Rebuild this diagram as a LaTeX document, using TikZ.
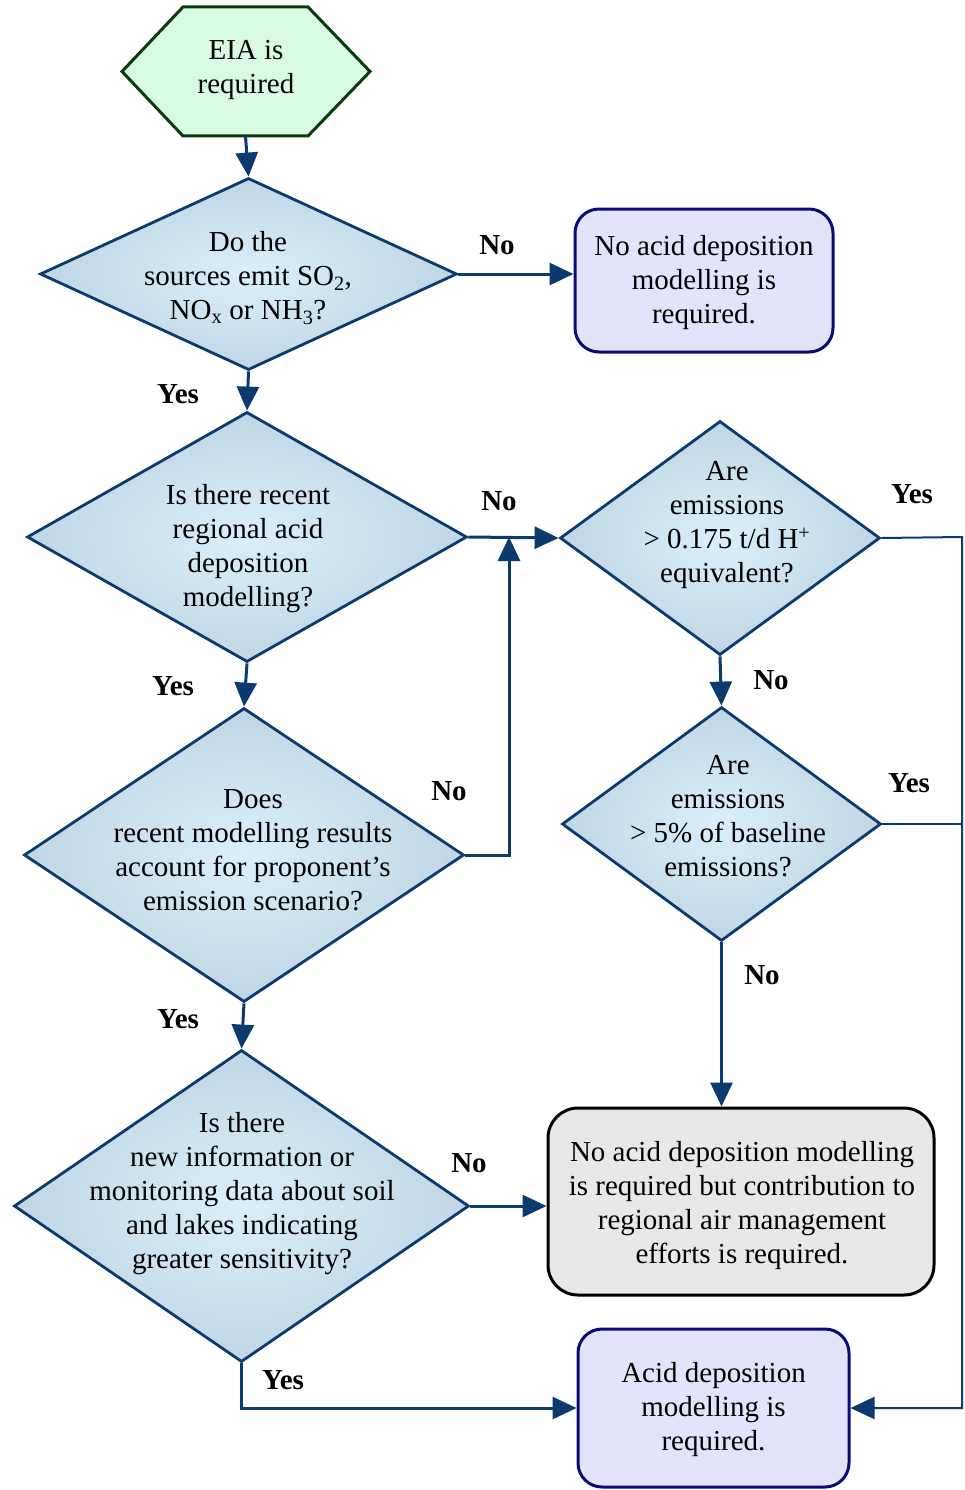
\documentclass[tikz,border=0pt]{standalone}
\usepackage{fontspec}
\setmainfont{Liberation Serif}
\usetikzlibrary{shapes.geometric,arrows.meta,calc}

\definecolor{flowblue}{HTML}{0B3A6E}
\definecolor{diamin}{HTML}{DAEFFB}
\definecolor{diamout}{HTML}{C0D6E4}
\definecolor{endfill}{HTML}{E3E3FB}
\definecolor{endline}{HTML}{0A0A80}
\definecolor{greyfill}{HTML}{E8E8E8}
\definecolor{startfill}{HTML}{D9FBE1}
\definecolor{startline}{HTML}{0D3A0D}

\tikzset{
  question/.style={diamond, draw=flowblue, line width=2.8pt, inner sep=0pt,
    shade, inner color=diamin, outer color=diamout},
  qtext/.style={align=center, font=\fontsize{29}{34}\selectfont},
  endbox/.style={rectangle, rounded corners=24pt, draw=endline, fill=endfill,
    line width=3pt, align=center, font=\fontsize{29}{34}\selectfont},
  greybox/.style={endbox, rounded corners=30pt, draw=black, fill=greyfill},
  answer/.style={font=\fontsize{29}{34}\selectfont\bfseries},
  flow/.style={draw=flowblue, line width=3pt, -{Triangle[length=24pt,width=22pt]}},
  rail/.style={draw=flowblue, line width=2pt},
}

\begin{document}
\begin{tikzpicture}[x=1pt,y=-1pt]
        \useasboundingbox (0,0) rectangle (964,1490);

        % start
        \draw[draw=startline, fill=startfill, line width=3pt]
            (183,7) -- (308,7) -- (370,71.5) -- (308,136) -- (183,136) -- (122,71.5) -- cycle;
        \node[minimum width=125pt, minimum height=129pt, inner sep=0pt] (eia) at (245.5,71.5) {};
        \node[qtext] (eiatxt) at (246,70) {EIA is\\required};

        % questions
        \node[question, minimum width=417pt, minimum height=192pt] (d1) at (248.5,274) {};
        \node[qtext] (d1txt) at (248,278) {Do the\\sources emit SO\textsubscript{2},\\NO\textsubscript{x} or NH\textsubscript{3}?};

        \node[question, minimum width=440pt, minimum height=250pt] (d2) at (247,537) {};
        \node[qtext] (d2txt) at (248,549) {Is there recent\\regional acid\\deposition\\modelling?};

        \node[question, minimum width=320pt, minimum height=234pt] (d3) at (720,538) {};
        \node[qtext] (d3txt) at (727,525) {Are\\emissions\\> 0.175 t/d H\textsuperscript{+}\\equivalent?};

        \node[question, minimum width=440pt, minimum height=294pt] (d4) at (244,855) {};
        \node[qtext] (d4txt) at (253,850) {Does\\recent modelling results\\account for proponent’s\\emission scenario?};

        \node[question, minimum width=319pt, minimum height=234pt] (d6) at (721.5,824) {};
        \node[qtext] (d6txt) at (728,816) {Are\\emissions\\> 5\% of baseline\\emissions?};

        \node[question, minimum width=455pt, minimum height=312pt] (d5) at (241.5,1206) {};
        \node[qtext] (d5txt) at (242,1194) {Is there\\new information or\\monitoring data about soil\\and lakes indicating\\greater sensitivity?};

        % outcomes
        \node[endbox, minimum width=258pt, minimum height=143pt] (nomodel) at (704,280.5) {};
        \node[qtext] (nomodeltxt) at (704,282.5) {No acid deposition\\modelling is\\required.};
        \node[greybox, minimum width=386pt, minimum height=187pt] (contrib) at (741,1201.5) {};
        \node[qtext] (contribtxt) at (742,1206) {No acid deposition modelling\\is required but contribution to\\regional air management\\efforts is required.};
        \node[endbox, minimum width=271pt, minimum height=158pt] (model) at (713.5,1408) {};
        \node[qtext] (modeltxt) at (713.5,1410) {Acid deposition\\modelling is\\required.};

        \coordinate (loop) at (509,537);
        \coordinate (rail) at (962,537);

        % connectors
        \draw[flow] (eia.south) -- (d1.north);
        \draw[flow] (d1.east) -- (d1.east -| nomodel.west);
        \draw[flow] (d1.south) -- (d2.north);
        \draw[flow] (d2.east) -- (d3.west);
        \draw[flow] (d2.south) -- (d4.north);
        \draw[flow] (d4.east) -| (loop);
        \draw[flow] (d4.south) -- (d5.north);
        \draw[flow] (d5.east) -- (d5.east -| contrib.west);
        \draw[flow] (d5.south) |- (model.west);
        \draw[flow] (d3.south) -- (d6.north);
        \draw[flow] (d6.south) -- (d6.south |- contrib.north);
        \draw[flow, line width=2pt] (d3.east) -- (rail) |- (model.east);
        \draw[rail] (d6.east) -- (rail |- d6.east);

        % answers
        \node[answer] (no1) at (497,245) {No};
        \node[answer] (yes1) at (178,394) {Yes};
        \node[answer] (no2) at (499,501) {No};
        \node[answer] (yes2) at (912,494) {Yes};
        \node[answer] (no3) at (771,680) {No};
        \node[answer] (yes3) at (909,783) {Yes};
        \node[answer] (no4) at (449,791) {No};
        \node[answer] (yes4) at (173,686) {Yes};
        \node[answer] (yes5) at (178,1019) {Yes};
        \node[answer] (no5) at (762,975) {No};
        \node[answer] (no6) at (469,1163) {No};
        \node[answer] (yes6) at (283,1380) {Yes};
    \end{tikzpicture}
\end{document}
